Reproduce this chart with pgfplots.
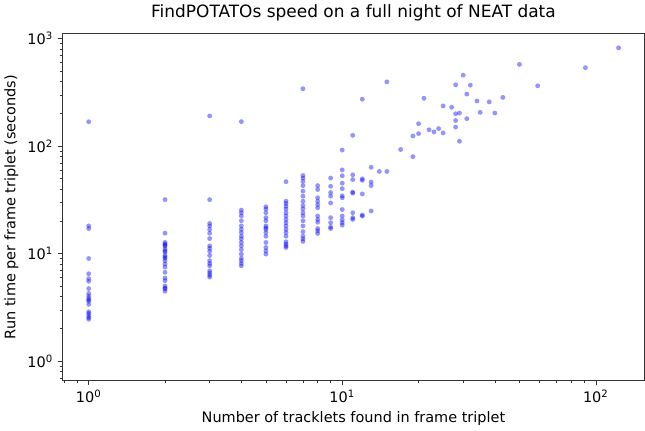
\documentclass[border=0pt]{standalone}
\usepackage{pgfplots}
\pgfplotsset{compat=1.18}
\usepackage{pgfplotstable}
\usepackage{fontspec}
\setmainfont{DejaVu Sans}
\pgfplotstableread{
x y
1 168.6
1 18.1
1 17.1
1 9.0
1 6.5
1 5.85
1 5.53
1 4.73
1 4.26
1 4.02
1 3.83
1 3.7
1 3.61
1 3.37
1 2.88
1 2.77
1 2.65
1 2.54
1 2.45
2 31.8
2 15.5
2 12.7
2 12.3
2 12.0
2 11.7
2 11.0
2 10.6
2 10.3
2 9.6
2 9.3
2 9.06
2 8.6
2 8.0
2 7.5
2 6.7
2 5.93
2 5.6
2 5.0
2 4.8
2 4.7
2 4.47
3 191
3 31.8
3 19.1
3 18.1
3 16.8
3 15.5
3 13.8
3 11.8
3 11.2
3 10.5
3 9.6
3 8.6
3 8.1
3 7.7
3 6.9
3 6.6
3 6.3
3 6.05
4 169
4 25.4
4 24.0
4 22.4
4 20.2
4 18.1
4 16.8
4 15.7
4 14.5
4 13.7
4 12.7
4 11.8
4 10.9
4 9.9
4 9.06
4 8.6
4 8.1
4 7.7
5 27.3
5 26.0
5 24.0
5 21.6
5 20.2
5 18.1
5 17.4
5 16.8
5 15.7
5 14.5
5 12.7
5 11.4
5 10.6
5 9.9
6 46.7
6 30.7
6 29.3
6 27.6
6 26.0
6 24.0
6 22.4
6 20.8
6 19.4
6 18.1
6 16.8
6 15.7
6 14.5
6 12.9
6 12.3
6 11.8
6 11.4
7 342
7 53.3
7 50.4
7 47.0
7 42.9
7 38.1
7 34.2
7 30.7
7 28.0
7 26.1
7 24.0
7 22.4
7 20.2
7 18.1
7 16.0
7 14.5
7 13.7
7 13.0
8 42.9
8 39.5
8 33.1
8 30.7
8 28.6
8 26.7
8 22.4
8 20.8
8 19.6
8 17.1
8 16.3
8 15.4
9 50.4
9 42.3
9 37.0
9 34.2
9 29.6
9 21.6
9 19.4
9 17.7
9 17.1
10 91.9
10 60.1
10 53.0
10 45.2
10 40.2
10 34.5
10 33.1
10 25.7
10 22.4
10 20.6
10 19.4
10 18.4
11 126
11 54.1
11 48.8
11 37.3
11 36.6
11 24.0
11 21.6
11 20.8
12 273
12 49.7
12 48.0
12 35.9
12 22.8
12 22.4
13 63.6
13 46.3
13 42.9
13 24.9
14 58.1
15 396
15 58.1
17 93.0
19 124.3
19 79.8
20 161.7
20 130.8
21 278.5
22 142
23 135.6
24 145.6
25 236.7
25 132.7
27 230
28 372
28 200
28 173
28 150.6
29 203
29 111
30 457
31 305
31 180
32 369
34 263
35 206
38 258
40 203
43 284
50 576
59 364
91 537
123 821
}\datatable
\begin{document}
\begin{tikzpicture}
\begin{axis}[
  xmode=log, ymode=log,
  scale only axis,
  width=443pt, height=264pt,
  xmin=0.786, xmax=156,
  ymin=0.66, ymax=1120,
  tick pos=left,
  tick align=outside,
  major tick length=3.5pt,
  minor tick length=2pt,
  xtick={1,10,100},
  xticklabels={10\textsuperscript{0},10\textsuperscript{1},10\textsuperscript{2}},
  minor xtick={0.8,0.9,2,3,4,5,6,7,8,9,20,30,40,50,60,70,80,90},
  ytick={1,10,100,1000},
  yticklabels={10\textsuperscript{0},10\textsuperscript{1},10\textsuperscript{2},10\textsuperscript{3}},
  minor ytick={0.7,0.8,0.9,2,3,4,5,6,7,8,9,20,30,40,50,60,70,80,90,200,300,400,500,600,700,800,900},
  ticklabel style={font=\fontsize{11}{13}\selectfont},
  label style={font=\fontsize{11}{13}\selectfont},
  title style={font=\fontsize{12.9}{15}\selectfont},
  title={FindPOTATOs speed on a full night of NEAT data},
  xlabel={Number of tracklets found in frame triplet},
  ylabel={Run time per frame triplet (seconds)},
  axis line style={black!80},
  every tick/.style={black!80},
]
\addplot[blue, only marks, mark=*, mark size=1.85pt,
  mark options={solid, fill=blue, draw=blue, fill opacity=0.42, draw opacity=0}]
  table[x=x, y=y] {\datatable};
\end{axis}
\end{tikzpicture}
\end{document}
